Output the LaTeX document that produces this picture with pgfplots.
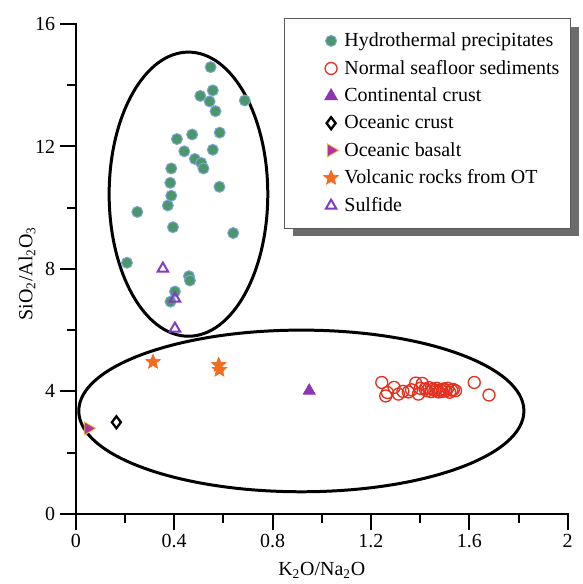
\documentclass[border=0pt]{standalone}
\usepackage{pgfplots}
\pgfplotsset{compat=1.18}
\usepackage{fontspec}
\setmainfont{Liberation Serif}
\usetikzlibrary{shadows}
\definecolor{hydfill}{RGB}{76,150,108}
\definecolor{hydedge}{RGB}{125,165,215}
\definecolor{sedred}{RGB}{228,48,30}
\definecolor{contpur}{RGB}{140,52,180}
\definecolor{basmag}{RGB}{180,50,160}
\definecolor{basyel}{RGB}{240,200,60}
\definecolor{volcor}{RGB}{245,108,30}
\definecolor{sulpur}{RGB}{130,60,195}
\pgfdeclareplotmark{fstar}{%
  \pgfpathmoveto{\pgfpointpolar{90}{\pgfplotmarksize}}%
  \pgfpathlineto{\pgfpointpolar{126}{0.45\pgfplotmarksize}}%
  \pgfpathlineto{\pgfpointpolar{162}{\pgfplotmarksize}}%
  \pgfpathlineto{\pgfpointpolar{198}{0.45\pgfplotmarksize}}%
  \pgfpathlineto{\pgfpointpolar{234}{\pgfplotmarksize}}%
  \pgfpathlineto{\pgfpointpolar{270}{0.45\pgfplotmarksize}}%
  \pgfpathlineto{\pgfpointpolar{306}{\pgfplotmarksize}}%
  \pgfpathlineto{\pgfpointpolar{342}{0.45\pgfplotmarksize}}%
  \pgfpathlineto{\pgfpointpolar{18}{\pgfplotmarksize}}%
  \pgfpathlineto{\pgfpointpolar{54}{0.45\pgfplotmarksize}}%
  \pgfpathclose
  \pgfusepathqfillstroke}
\newcommand{\lt}[1]{\makebox[134pt][l]{#1}}
\begin{document}
\begin{tikzpicture}
\begin{axis}[
  at={(0,0)}, anchor=south west,
  scale only axis, width=295.8pt, height=294.6pt,
  xmin=0, xmax=2, ymin=0, ymax=16,
  axis x line*=bottom, axis y line*=left,
  axis line style={line width=1.2pt},
  clip=false,
  xtick={0,0.4,0.8,1.2,1.6,2},
  xticklabels={0,0.4,0.8,1.2,1.6,2},
  minor xtick={0.2,0.6,1.0,1.4,1.8},
  ytick={0,4,8,12,16},
  minor ytick={2,6,10,14},
  xtick pos=bottom, ytick pos=left,
  xtick align=outside, ytick align=outside,
  major tick length=9pt, minor tick length=5.5pt,
  major tick style={draw=black, line width=1.2pt},
  minor tick style={draw=black, line width=1.2pt},
  tick label style={font=\fontsize{12}{14}\selectfont},
  /pgf/number format/assume math mode=true,
  xlabel={K\textsubscript{2}O/Na\textsubscript{2}O},
  ylabel={SiO\textsubscript{2}/Al\textsubscript{2}O\textsubscript{3}},
  label style={font=\fontsize{12}{14}\selectfont},
  xlabel style={at={(axis description cs:0.5,0)}, anchor=center, yshift=-34pt},
  ylabel style={at={(axis description cs:0,0.49)}, anchor=center, yshift=29.4pt},
  legend cell align=left,
  legend image code/.code={\pgfpathrectangle{\pgfpoint{0pt}{-3pt}}{\pgfpoint{33.8pt}{6pt}}\pgfusepath{use as bounding box}\draw[#1] plot coordinates {(27.8pt,0pt)};},
  legend style={at={(rel axis cs:0.424,1.012)}, anchor=north west,
    font=\fontsize{12}{14}\selectfont, draw=gray!70!black, line width=0.6pt,
    fill=white, inner xsep=0pt, inner ysep=6.5pt, row sep=2.7pt,
    drop shadow={shadow xshift=4.8pt, shadow yshift=-4.8pt, fill=gray!85!black, opacity=1}},
]
\addplot[only marks, mark=*, mark size=3.3pt, mark options={fill=hydfill, draw=hydedge, line width=0.6pt}] coordinates {
(0.548,14.59) (0.557,13.83) (0.506,13.65) (0.544,13.47) (0.687,13.50)
(0.568,13.15) (0.473,12.39) (0.585,12.45) (0.411,12.24) (0.441,11.84)
(0.557,11.89) (0.484,11.59) (0.510,11.46) (0.519,11.28) (0.388,11.28)
(0.384,10.81) (0.584,10.68) (0.388,10.39) (0.374,10.07) (0.250,9.86)
(0.395,9.36) (0.640,9.17) (0.208,8.20) (0.460,7.76) (0.464,7.62)
(0.403,7.26) (0.385,6.93)
};
\addlegendentry{\lt{Hydrothermal precipitates}}

\addplot[only marks, mark=o, mark size=3.6pt, mark options={draw=sedred, line width=0.8pt}] coordinates {
(1.244,4.29) (1.267,3.96) (1.260,3.85) (1.294,4.13) (1.312,3.91)
(1.330,4.00) (1.352,3.98) (1.365,4.05) (1.382,4.27) (1.393,3.91)
(1.409,4.26) (1.400,4.10) (1.420,4.08) (1.428,4.02) (1.437,4.12)
(1.445,3.99) (1.452,4.07) (1.460,4.03) (1.468,4.10) (1.475,3.98)
(1.482,4.05) (1.490,4.00) (1.497,4.08) (1.505,4.02) (1.512,4.10)
(1.520,3.97) (1.528,4.04) (1.535,4.06) (1.544,4.02) (1.620,4.29)
(1.680,3.88)
};
\addlegendentry{\lt{Normal seafloor sediments}}

\addplot[only marks, mark=triangle*, mark size=4.2pt, mark options={fill=contpur, draw=contpur}] coordinates {(0.949,4.02)};
\addlegendentry{\lt{Continental crust}}

\addplot[only marks, mark=diamond, mark size=3.6pt, mark options={draw=black, line width=1.4pt}] coordinates {(0.165,2.99)};
\addlegendentry{\lt{Oceanic crust}}

\addplot[only marks, mark=triangle*, mark size=4.6pt, mark options={rotate=-90, fill=basmag, draw=basyel, line width=0.5pt}] coordinates {(0.05,2.79)};
\addlegendentry{\lt{Oceanic basalt}}

\addplot[only marks, mark=fstar, mark size=4.6pt, mark options={fill=volcor, draw=volcor, line width=0.4pt}] coordinates {(0.314,4.96) (0.581,4.86) (0.584,4.70)};
\addlegendentry{\lt{Volcanic rocks from OT}}

\addplot[only marks, mark=triangle, mark size=3.6pt, mark options={draw=sulpur, line width=1.2pt}] coordinates {(0.354,8.01) (0.403,7.03) (0.403,6.05)};
\addlegendentry{\lt{Sulfide}}

\draw[line width=1.8pt] (axis cs:0.458,10.44) ellipse [x radius=0.3225, y radius=4.64];
\draw[line width=1.8pt] (axis cs:0.917,3.36) ellipse [x radius=0.905, y radius=2.64];
\end{axis}
% axis lines and tick marks as thin filled bars (147.9pt per x unit, 18.4125pt per y unit)
\fill[black] (-0.6pt,-0.6pt) rectangle (296.4pt,0.6pt);
\fill[black] (-0.6pt,-0.6pt) rectangle (0.6pt,295.2pt);
\foreach \k in {0,0.4,0.8,1.2,1.6,2} \fill[black] ({\k*147.9pt-0.6pt},0pt) rectangle ({\k*147.9pt+0.6pt},-9.6pt);
\foreach \k in {0.2,0.6,1.0,1.4,1.8} \fill[black] ({\k*147.9pt-0.6pt},0pt) rectangle ({\k*147.9pt+0.6pt},-5.5pt);
\foreach \k in {0,4,8,12,16} \fill[black] (0pt,{\k*18.4125pt-0.6pt}) rectangle (-9.6pt,{\k*18.4125pt+0.6pt});
\foreach \k in {2,6,10,14} \fill[black] (0pt,{\k*18.4125pt-0.6pt}) rectangle (-5.5pt,{\k*18.4125pt+0.6pt});
\path (-45.6pt,-39.6pt) rectangle (304.8pt,309pt);
\end{tikzpicture}
\end{document}
